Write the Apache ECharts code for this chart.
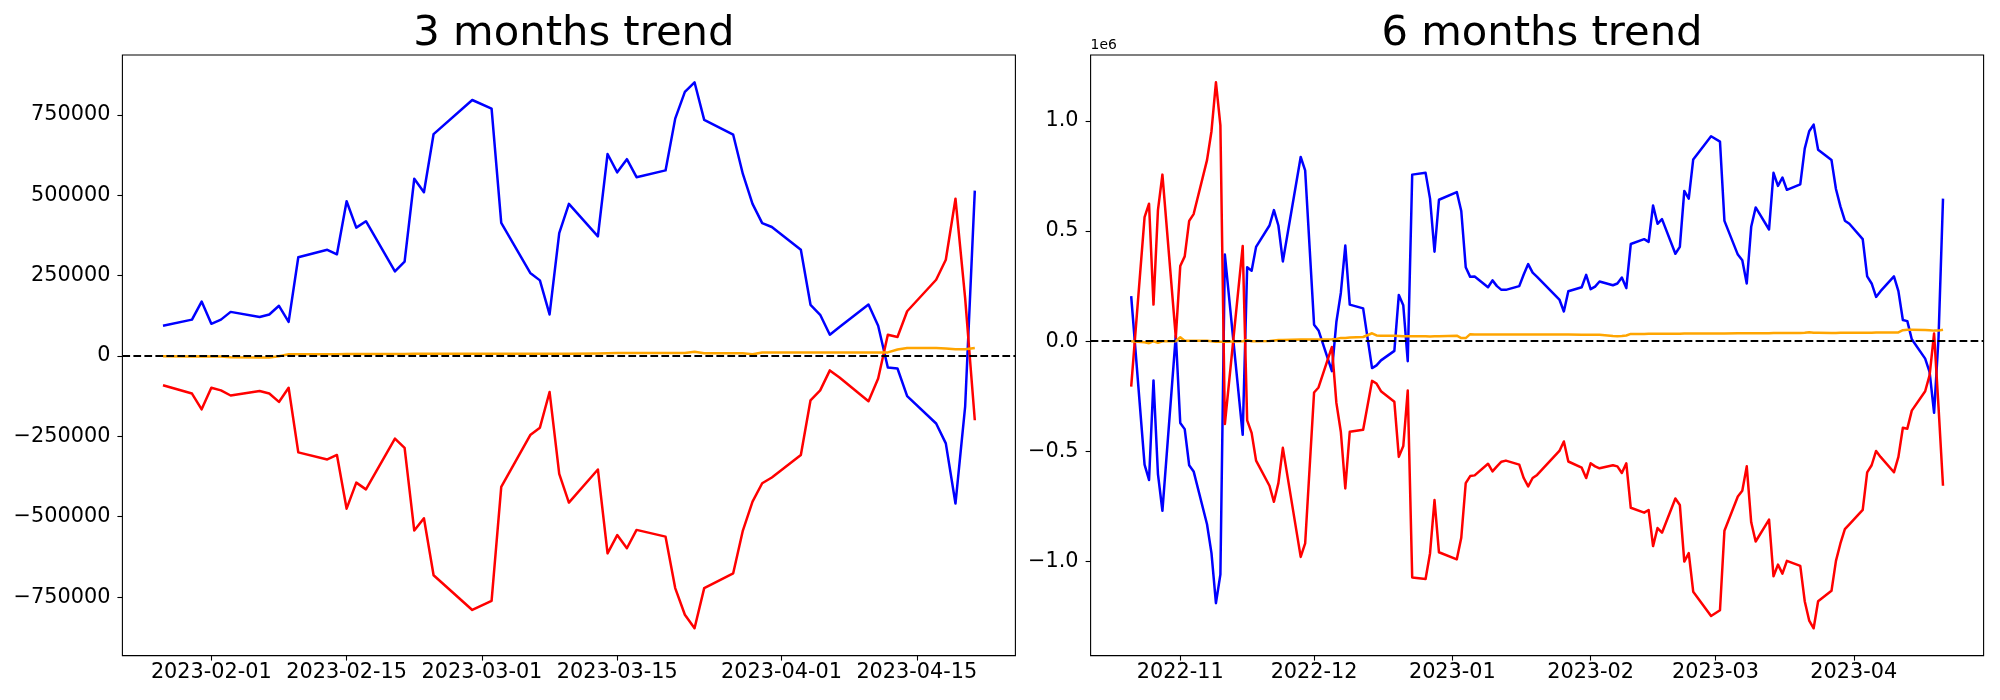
<!DOCTYPE html>
<html>
<head>
<meta charset="utf-8">
<script src="https://cdn.jsdelivr.net/npm/echarts@6/dist/echarts.min.js"></script>
<style>
html,body{margin:0;padding:0;background:#ffffff;}
#chart{width:2000px;height:700px;}
</style>
</head>
<body>
<div id="chart"></div>
<script>
// ---------------- DATA ----------------
const leftTitle = '3 months trend';
const rightTitle = '6 months trend';

const leftDates = ['2023-01-27','2023-01-30','2023-01-31','2023-02-01','2023-02-02','2023-02-03','2023-02-06','2023-02-07','2023-02-08','2023-02-09',
  '2023-02-10','2023-02-13','2023-02-14','2023-02-15','2023-02-16','2023-02-17','2023-02-20','2023-02-21','2023-02-22','2023-02-23',
  '2023-02-24','2023-02-28','2023-03-02','2023-03-03','2023-03-06','2023-03-07','2023-03-08','2023-03-09','2023-03-10','2023-03-13',
  '2023-03-14','2023-03-15','2023-03-16','2023-03-17','2023-03-20','2023-03-21','2023-03-22','2023-03-23','2023-03-24','2023-03-27',
  '2023-03-28','2023-03-29','2023-03-30','2023-03-31','2023-04-03','2023-04-04','2023-04-05','2023-04-06','2023-04-07','2023-04-10',
  '2023-04-11','2023-04-12','2023-04-13','2023-04-14','2023-04-17','2023-04-18','2023-04-19','2023-04-20','2023-04-21'];

const leftBlue = [94000,113000,169000,100000,113000,137000,121000,129000,156000,106000,
  307000,330000,316000,481000,399000,419000,263000,293000,551000,509000,
  690000,796000,769000,414000,258000,235000,129000,382000,473000,372000,
  628000,571000,612000,556000,577000,738000,821000,851000,734000,688000,
  566000,473000,413000,401000,330000,159000,128000,66000,90000,160000,
  94000,-36000,-39000,-125000,-210000,-272000,-459000,-158000,514000];

const leftRed = [-91000,-117000,-166000,-99000,-107000,-123000,-109000,-117000,-143000,-99000,
  -300000,-322000,-308000,-475000,-394000,-415000,-257000,-286000,-543000,-505000,
  -682000,-790000,-762000,-407000,-246000,-223000,-112000,-367000,-456000,-353000,
  -614000,-557000,-598000,-541000,-562000,-722000,-805000,-847000,-722000,-676000,
  -543000,-453000,-396000,-378000,-308000,-138000,-107000,-45000,-67000,-141000,
  -70000,66000,59000,139000,237000,299000,489000,180000,-200000];

const leftOrange = [-1000,-1500,-1000,-1500,-2000,-4000,-5000,-4500,-1000,5000,
  5000,5000,5000,6000,6000,6000,6000,6000,6500,6500,
  6500,7000,7000,7000,7000,7000,7000,7000,7000,7500,
  8000,9000,9000,9000,9000,9000,9500,13000,8500,8500,
  8500,5000,11000,11000,11000,11000,11000,11000,11000,11000,
  11000,11000,20000,25000,25000,23000,21000,21000,25000];

const rightDates = [
  '2022-10-21','2022-10-24','2022-10-25','2022-10-26','2022-10-27','2022-10-28','2022-10-31',
  '2022-11-01','2022-11-02','2022-11-03','2022-11-04','2022-11-07','2022-11-08','2022-11-09','2022-11-10','2022-11-11',
  '2022-11-15','2022-11-16','2022-11-17','2022-11-18','2022-11-21','2022-11-22','2022-11-23','2022-11-24','2022-11-28','2022-11-29',
  '2022-12-01','2022-12-02','2022-12-05','2022-12-06','2022-12-07','2022-12-08','2022-12-09','2022-12-12','2022-12-14','2022-12-15',
  '2022-12-16','2022-12-19','2022-12-20','2022-12-21','2022-12-22','2022-12-23','2022-12-26','2022-12-27','2022-12-28','2022-12-29',
  '2023-01-02','2023-01-03','2023-01-04','2023-01-05','2023-01-06','2023-01-09','2023-01-10','2023-01-11','2023-01-12','2023-01-13',
  '2023-01-16','2023-01-17','2023-01-18','2023-01-19','2023-01-20','2023-01-25','2023-01-26','2023-01-27','2023-01-30','2023-01-31',
  '2023-02-01','2023-02-02','2023-02-03','2023-02-06','2023-02-07','2023-02-08','2023-02-09','2023-02-10','2023-02-13','2023-02-14',
  '2023-02-15','2023-02-16','2023-02-17','2023-02-20','2023-02-21','2023-02-22','2023-02-23','2023-02-24','2023-02-28',
  '2023-03-02','2023-03-03','2023-03-06','2023-03-07','2023-03-08','2023-03-09','2023-03-10','2023-03-13','2023-03-14','2023-03-15',
  '2023-03-16','2023-03-17','2023-03-20','2023-03-21','2023-03-22','2023-03-23','2023-03-24','2023-03-27','2023-03-28','2023-03-29',
  '2023-03-30','2023-03-31',
  '2023-04-03','2023-04-04','2023-04-05','2023-04-06','2023-04-07','2023-04-10','2023-04-11','2023-04-12','2023-04-13','2023-04-14',
  '2023-04-17','2023-04-18','2023-04-19','2023-04-20','2023-04-21'];

const rightBlue = [
  205000,-560000,-630000,-178000,-603000,-770000,26000,
  -371000,-399000,-563000,-591000,-831000,-962000,-1189000,-1058000,393000,
  -425000,336000,320000,428000,525000,595000,525000,362000,836000,775000,
  75000,49000,-136000,87000,219000,434000,166000,149000,-122000,-110000,
  -87000,-44000,210000,163000,-91000,756000,764000,647000,406000,642000,
  677000,591000,336000,292000,294000,245000,276000,250000,233000,233000,
  250000,303000,350000,311000,292000,189000,135000,227000,245000,301000,
  236000,248000,271000,254000,262000,289000,241000,441000,463000,451000,
  616000,533000,554000,397000,428000,682000,647000,825000,930000,
  906000,546000,393000,367000,262000,519000,607000,507000,764000,705000,
  743000,687000,712000,874000,953000,983000,869000,822000,691000,612000,
  547000,533000,
  463000,294000,262000,201000,227000,294000,227000,96000,91000,9000,
  -79000,-140000,-325000,17000,647000];

const rightRed = [
  -206000,563000,624000,166000,595000,756000,17000,
  341000,385000,546000,577000,822000,953000,1175000,979000,-376000,
  432000,-359000,-416000,-542000,-656000,-729000,-644000,-484000,-979000,-918000,
  -233000,-210000,-26000,-280000,-411000,-668000,-411000,-402000,-180000,-192000,
  -227000,-275000,-525000,-476000,-224000,-1072000,-1079000,-962000,-721000,-958000,
  -990000,-892000,-644000,-612000,-609000,-556000,-591000,-568000,-547000,-542000,
  -560000,-621000,-659000,-621000,-607000,-498000,-455000,-546000,-574000,-621000,
  -554000,-568000,-577000,-563000,-568000,-598000,-554000,-756000,-778000,-766000,
  -930000,-848000,-869000,-714000,-743000,-1000000,-962000,-1137000,-1247000,
  -1221000,-860000,-705000,-679000,-568000,-822000,-909000,-810000,-1067000,-1014000,
  -1055000,-997000,-1020000,-1180000,-1268000,-1303000,-1180000,-1133000,-997000,-918000,
  -853000,-831000,
  -766000,-595000,-563000,-498000,-525000,-595000,-525000,-393000,-397000,-315000,
  -227000,-154000,35000,-300000,-656000];

const rightOrange = [
  0,-5000,-9000,0,-7000,0,0,
  18000,2000,2000,2000,2000,0,-2000,-2000,-2000,
  0,4000,0,0,1000,3000,5000,6000,8000,8000,
  8000,8000,9000,10000,15000,15000,17000,19000,36000,26000,
  25000,25000,24000,23000,23000,22000,22000,21000,22000,23000,
  25000,14000,14000,32000,30000,30000,30000,30000,30000,30000,
  30000,30000,30000,30000,30000,30000,30000,30000,29000,29000,
  29000,29000,29000,24000,23000,24000,26000,33000,33000,34000,
  34000,34000,34000,34000,34000,35000,35000,35000,35000,
  35000,35000,36000,36000,36000,36000,36000,36000,37000,37000,
  37000,37000,37000,38000,41000,38000,38000,37000,37000,38000,
  38000,38000,
  38000,38000,38000,39000,39000,39000,40000,50000,52000,52000,
  51000,50000,48000,48000,52000];

const leftXTickLabels = ['2023-02-01','2023-02-15','2023-03-01','2023-03-15','2023-04-01','2023-04-15'];
const rightXTickLabels = ['2022-11','2022-12','2023-01','2023-02','2023-03','2023-04'];
const leftYTicks = [-750000,-500000,-250000,0,250000,500000,750000];
const rightYTicks = [-1000000,-500000,0,500000,1000000];
const rightOffsetText = '1e6';

// ---------------- HELPERS ----------------
const MINUS = '\u2212';
const FONT = 'DejaVu Sans';
function ts(s){ const p = s.split('-').map(Number); return Date.UTC(p[0], p[1]-1, p[2] || 1); }
function pairs(d, v){ return d.map((s, i) => [ts(s), v[i]]); }
function padRange(arr, m){ const mn = Math.min(...arr), mx = Math.max(...arr); const p = (mx - mn) * m; return [mn - p, mx + p]; }

const lxr = padRange(leftDates.map(ts), 0.05);
const rxr = padRange(rightDates.map(ts), 0.05);
const lyr = padRange(leftBlue.concat(leftRed, leftOrange), 0.05);
const ryr = padRange(rightBlue.concat(rightRed, rightOrange), 0.05);

const leftXTickVals = leftXTickLabels.map(ts);
const rightXTickVals = rightXTickLabels.map(ts);
function labelFor(vals, labels){ return v => { let best = 0; for (let i = 1; i < vals.length; i++) if (Math.abs(vals[i] - v) < Math.abs(vals[best] - v)) best = i; return labels[best]; }; }
function fmtInt(v){ return v < 0 ? MINUS + Math.abs(Math.round(v)) : String(Math.round(v)); }
function fmtE6(v){ const s = (Math.abs(v) / 1e6).toFixed(1); return v < 0 ? MINUS + s : s; }

const grids = [
  {left: 122.4, top: 55, width: 893, height: 600.6},
  {left: 1090.6, top: 55, width: 893, height: 600.6}
];

function xAxisCfg(idx, r, vals, labels){
  return {
    type: 'value', gridIndex: idx, min: r[0], max: r[1], scale: true, position: 'bottom',
    axisLine: {show: false, onZero: false}, splitLine: {show: false},
    axisTick: {show: true, length: 5, lineStyle: {color: '#000', width: 1.1}, customValues: vals},
    axisLabel: {customValues: vals, formatter: labelFor(vals, labels), fontSize: 20.8, color: '#000', fontFamily: FONT, margin: 7}
  };
}
function yAxisCfg(idx, r, vals, fmt, extra){
  return Object.assign({
    type: 'value', gridIndex: idx, min: r[0], max: r[1], scale: true, position: 'left',
    axisLine: {show: false, onZero: false}, splitLine: {show: false},
    axisTick: {show: true, length: 5, lineStyle: {color: '#000', width: 1.1}, customValues: vals},
    axisLabel: {customValues: vals, formatter: fmt, fontSize: 20.8, color: '#000', fontFamily: FONT, margin: 12}
  }, extra || {});
}
function lineSeries(idx, data, color, withZero){
  const s = {
    type: 'line', xAxisIndex: idx, yAxisIndex: idx, data: data,
    showSymbol: false, symbol: 'none', silent: true,
    lineStyle: {color: color, width: 2.5, join: 'round', cap: 'butt'},
    itemStyle: {color: color}
  };
  if (withZero) {
    s.markLine = {
      silent: true, symbol: ['none', 'none'], label: {show: false},
      lineStyle: {color: '#000', width: 2.1, type: [7.7, 3.3]},
      emphasis: {disabled: true},
      data: [{yAxis: 0}]
    };
  }
  return s;
}

const option = {
  animation: false,
  backgroundColor: '#ffffff',
  title: [
    {text: leftTitle, left: 568.9, top: 8, textAlign: 'center', textStyle: {fontSize: 41.7, fontWeight: 'normal', color: '#000', fontFamily: FONT}},
    {text: rightTitle, left: 1537, top: 8, textAlign: 'center', textStyle: {fontSize: 41.7, fontWeight: 'normal', color: '#000', fontFamily: FONT}}
  ],
  grid: grids.map(g => Object.assign({show: true, borderColor: '#000', borderWidth: 1.1, backgroundColor: 'transparent', containLabel: false}, g)),
  xAxis: [
    xAxisCfg(0, lxr, leftXTickVals, leftXTickLabels),
    xAxisCfg(1, rxr, rightXTickVals, rightXTickLabels)
  ],
  yAxis: [
    yAxisCfg(0, lyr, leftYTicks, fmtInt),
    yAxisCfg(1, ryr, rightYTicks, fmtE6, {
      name: rightOffsetText, nameLocation: 'end', nameGap: 3,
      nameTextStyle: {fontSize: 13.9, color: '#000', fontFamily: FONT, align: 'left', verticalAlign: 'bottom'}
    })
  ],
  series: [
    lineSeries(0, pairs(leftDates, leftBlue), '#0000ff', false),
    lineSeries(0, pairs(leftDates, leftRed), '#ff0000', false),
    lineSeries(0, pairs(leftDates, leftOrange), '#ffa500', true),
    lineSeries(1, pairs(rightDates, rightBlue), '#0000ff', false),
    lineSeries(1, pairs(rightDates, rightRed), '#ff0000', false),
    lineSeries(1, pairs(rightDates, rightOrange), '#ffa500', true)
  ]
};

const chart = echarts.init(document.getElementById('chart'), null, {renderer: 'canvas', width: 2000, height: 700});
chart.setOption(option);
</script>
</body>
</html>
